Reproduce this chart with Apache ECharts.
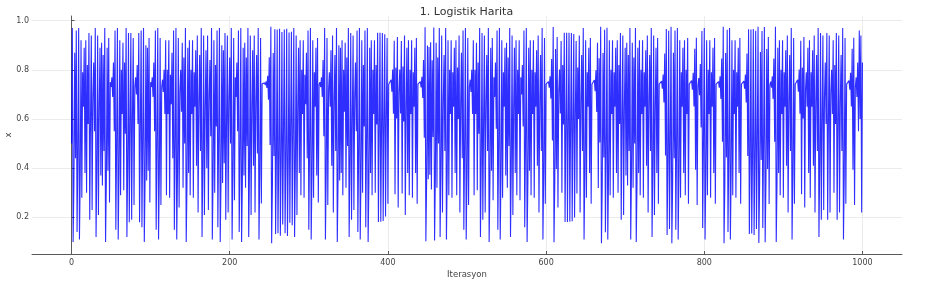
<!DOCTYPE html>
<html>
<head>
<meta charset="utf-8">
<script src="https://cdn.jsdelivr.net/npm/echarts@6/dist/echarts.min.js"></script>
<style>html,body{margin:0;padding:0;background:#fff}#c{width:933px;height:282px}</style>
</head>
<body>
<div id="c"></div>
<script>
// x_n values of the logistic map, read/ (iteration 0..1000)
const xValues = [
0.50,0.97,0.10,0.34,0.87,0.44,0.96,0.14,0.47,0.97,0.11,0.38,0.92,0.28,0.79,0.65,0.89,0.38,0.92,0.30,
0.82,0.58,0.95,0.19,0.60,0.94,0.23,0.69,0.83,0.55,0.97,0.12,0.41,0.94,0.21,0.65,0.89,0.37,0.91,0.33,
0.86,0.47,0.97,0.10,0.35,0.89,0.39,0.93,0.26,0.75,0.73,0.77,0.69,0.83,0.55,0.96,0.15,0.50,0.97,0.11,
0.38,0.92,0.29,0.80,0.62,0.91,0.31,0.83,0.54,0.97,0.12,0.42,0.95,0.18,0.58,0.95,0.19,0.61,0.93,0.25,
0.73,0.77,0.70,0.82,0.58,0.95,0.18,0.57,0.96,0.16,0.52,0.97,0.10,0.36,0.90,0.35,0.89,0.39,0.93,0.26,
0.75,0.73,0.77,0.69,0.83,0.55,0.96,0.15,0.50,0.97,0.11,0.38,0.93,0.25,0.73,0.76,0.71,0.80,0.62,0.92,
0.29,0.80,0.62,0.92,0.28,0.78,0.66,0.87,0.44,0.96,0.15,0.49,0.97,0.11,0.39,0.93,0.24,0.71,0.80,0.63,
0.91,0.32,0.85,0.50,0.97,0.10,0.35,0.89,0.38,0.92,0.29,0.80,0.62,0.92,0.28,0.79,0.65,0.88,0.41,0.94,
0.22,0.67,0.86,0.47,0.97,0.12,0.41,0.94,0.21,0.65,0.88,0.40,0.94,0.23,0.69,0.84,0.53,0.97,0.11,0.38,
0.92,0.30,0.82,0.57,0.96,0.16,0.53,0.97,0.10,0.36,0.90,0.34,0.88,0.42,0.95,0.19,0.60,0.94,0.22,0.68,
0.85,0.50,0.97,0.11,0.39,0.93,0.27,0.77,0.69,0.83,0.55,0.96,0.14,0.47,0.97,0.10,0.35,0.89,0.37,0.91,
0.32,0.85,0.49,0.97,0.12,0.41,0.94,0.21,0.65,0.88,0.41,0.94,0.22,0.67,0.86,0.46,0.97,0.11,0.38,0.93,
0.256,0.743,0.745,0.742,0.747,0.738,0.753,0.726,0.776,0.678,0.851,0.494,0.975,0.095,0.335,0.869,0.450,0.965,0.132,0.447,
0.964,0.135,0.455,0.967,0.125,0.427,0.954,0.171,0.553,0.964,0.135,0.455,0.967,0.124,0.424,0.952,0.178,0.571,0.955,0.168,
0.55,0.97,0.12,0.41,0.94,0.21,0.65,0.89,0.38,0.92,0.29,0.80,0.62,0.92,0.28,0.78,0.66,0.87,0.44,0.96,
0.15,0.50,0.97,0.11,0.38,0.92,0.28,0.79,0.65,0.89,0.37,0.93,0.26,0.74,0.75,0.73,0.77,0.69,0.84,0.53,
0.97,0.11,0.39,0.93,0.25,0.72,0.79,0.65,0.88,0.41,0.94,0.22,0.67,0.86,0.47,0.97,0.10,0.36,0.90,0.35,
0.89,0.38,0.92,0.29,0.80,0.63,0.91,0.32,0.85,0.49,0.97,0.12,0.42,0.95,0.19,0.60,0.94,0.23,0.69,0.83,
0.55,0.96,0.14,0.47,0.97,0.11,0.38,0.92,0.30,0.82,0.57,0.96,0.16,0.52,0.97,0.10,0.35,0.89,0.38,0.92,
0.29,0.80,0.62,0.92,0.30,0.82,0.578,0.951,0.181,0.578,0.951,0.182,0.581,0.950,0.185,0.588,0.945,0.204,0.61,0.93,
0.255,0.741,0.748,0.735,0.760,0.711,0.801,0.621,0.918,0.294,0.809,0.602,0.934,0.240,0.711,0.801,0.622,0.917,0.297,0.814,
0.59,0.94,0.21,0.65,0.89,0.38,0.92,0.29,0.80,0.62,0.92,0.28,0.79,0.65,0.89,0.38,0.93,0.255,0.742,0.746,
0.739,0.752,0.728,0.772,0.686,0.840,0.524,0.973,0.103,0.360,0.899,0.355,0.893,0.373,0.912,0.313,0.839,0.527,0.972,0.106,
0.37,0.91,0.32,0.85,0.50,0.97,0.12,0.41,0.94,0.22,0.67,0.86,0.47,0.97,0.11,0.38,0.92,0.29,0.80,0.62,
0.92,0.28,0.79,0.65,0.89,0.38,0.92,0.29,0.81,0.60,0.94,0.22,0.66,0.87,0.44,0.96,0.15,0.49,0.97,0.11,
0.38,0.93,0.25,0.73,0.76,0.71,0.80,0.62,0.92,0.29,0.80,0.62,0.91,0.31,0.83,0.54,0.97,0.12,0.42,0.95,
0.19,0.60,0.94,0.22,0.67,0.86,0.47,0.97,0.10,0.35,0.89,0.39,0.93,0.27,0.77,0.69,0.83,0.56,0.96,0.15,
0.50,0.97,0.11,0.38,0.92,0.28,0.79,0.65,0.89,0.37,0.91,0.32,0.85,0.49,0.97,0.12,0.41,0.94,0.21,0.65,
0.89,0.38,0.92,0.29,0.80,0.62,0.92,0.27,0.77,0.70,0.82,0.57,0.96,0.16,0.52,0.97,0.10,0.35,0.89,0.39,
0.92,0.29,0.80,0.62,0.92,0.28,0.79,0.65,0.88,0.41,0.94,0.22,0.67,0.86,0.47,0.97,0.11,0.38,0.93,0.255,
0.742,0.746,0.739,0.752,0.727,0.774,0.683,0.844,0.513,0.974,0.099,0.348,0.885,0.397,0.934,0.240,0.711,0.801,0.622,0.917,
0.30,0.82,0.578,0.951,0.181,0.578,0.951,0.181,0.578,0.951,0.182,0.580,0.950,0.184,0.586,0.946,0.199,0.622,0.917,0.297,
0.81,0.60,0.94,0.22,0.67,0.86,0.47,0.97,0.11,0.38,0.92,0.28,0.79,0.65,0.89,0.38,0.93,0.255,0.741,0.748,
0.735,0.759,0.713,0.798,0.629,0.910,0.319,0.847,0.505,0.975,0.095,0.335,0.869,0.444,0.963,0.139,0.467,0.971,0.110,0.382,
0.92,0.29,0.80,0.62,0.92,0.28,0.79,0.65,0.89,0.38,0.92,0.30,0.82,0.58,0.95,0.19,0.60,0.94,0.21,0.65,
0.89,0.37,0.91,0.33,0.86,0.47,0.97,0.11,0.39,0.91,0.32,0.85,0.50,0.97,0.10,0.35,0.89,0.38,0.92,0.29,
0.80,0.62,0.92,0.28,0.79,0.65,0.88,0.41,0.94,0.22,0.67,0.86,0.47,0.97,0.12,0.41,0.94,0.21,0.65,0.89,
0.38,0.93,0.255,0.742,0.746,0.738,0.754,0.723,0.781,0.667,0.866,0.452,0.966,0.128,0.435,0.959,0.153,0.505,0.975,0.095,
0.34,0.87,0.44,0.96,0.15,0.50,0.97,0.11,0.38,0.92,0.28,0.79,0.65,0.89,0.38,0.92,0.29,0.80,0.62,0.93,
0.255,0.742,0.747,0.737,0.756,0.719,0.788,0.651,0.886,0.394,0.931,0.250,0.731,0.767,0.697,0.824,0.566,0.958,0.157,0.516,
0.97,0.11,0.38,0.92,0.29,0.80,0.62,0.92,0.28,0.79,0.65,0.89,0.38,0.93,0.255,0.742,0.746,0.739,0.752,0.727,
0.774,0.682,0.846,0.508,0.975,0.095,0.335,0.869,0.444,0.963,0.14,0.47,0.97,0.11,0.38,0.92,0.29,0.80,0.62,0.92,
0.28,0.79,0.65,0.89,0.38,0.93,0.255,0.742,0.746,0.738,0.754,0.723,0.781,0.667,0.866,0.450,0.965,0.132,0.447,0.964,
0.134,0.452,0.966,0.128,0.436,0.959,0.153,0.505,0.975,0.096,0.338,0.873,0.433,0.958,0.157,0.516,0.974,0.099,0.348,0.885,
0.397,0.934,0.254,0.739,0.752,0.727,0.774,0.682,0.846,0.508,0.975,0.10,0.35,0.89,0.38,0.92,0.29,0.80,0.62,0.92,
0.28,0.79,0.65,0.88,0.41,0.94,0.22,0.67,0.86,0.47,0.97,0.11,0.38,0.93,0.255,0.741,0.748,0.735,0.760,0.711,
0.801,0.621,0.918,0.294,0.809,0.602,0.934,0.24,0.72,0.79,0.65,0.89,0.38,0.92,0.28,0.79,0.65,0.88,0.41,0.94,
0.22,0.67,0.86,0.47,0.97,0.12,0.42,0.95,0.19,0.60,0.94,0.23,0.69,0.83,0.58,0.95,0.19,0.60,0.94,0.22,
0.71,0.80,0.62,0.92,0.30,0.82,0.58,0.95,0.19,0.60,0.94,0.22,0.67,0.86,0.47,0.97,0.11,0.38,0.93,0.255,
0.742,0.747,0.737,0.756,0.719,0.788,0.651,0.886,0.394,0.931,0.25,0.73,0.77,0.69,0.83,0.55,0.96,0.60,0.94,0.22,
0.83
];
const xTicks = [0, 200, 400, 600, 800, 1000];
const yTicks = [0.2, 0.4, 0.6, 0.8, 1.0];
const titleText = '1. Logistik Harita';
const xName = 'Iterasyon';
const yName = 'x';

const chart = echarts.init(document.getElementById('c'), null, {renderer: 'canvas'});
const seriesData = xValues.map((v, i) => [i, v]);
const gridColor = '#ebebeb';
const axisColor = '#5a5a5a';
const textColor = '#444';
const fontFamily = 'DejaVu Sans';

chart.setOption({
  animation: false,
  backgroundColor: '#fff',
  title: {
    text: titleText, left: 'center', top: 2,
    textStyle: {fontSize: 11, fontWeight: 'normal', color: '#333', fontFamily}
  },
  grid: {left: 32, right: 31, top: 16, bottom: 28, containLabel: false, outerBoundsMode: 'none'},
  xAxis: {
    type: 'value', min: -50, max: 1050,
    name: xName, nameLocation: 'middle', nameGap: 16, nameMoveOverlap: false,
    nameTextStyle: {fontSize: 8.5, color: textColor, fontFamily},
    axisLine: {show: true, onZero: false, lineStyle: {color: axisColor, width: 1}},
    axisTick: {show: true, inside: true, length: 3, customValues: xTicks, lineStyle: {color: axisColor}},
    axisLabel: {customValues: xTicks, fontSize: 8, color: textColor, fontFamily, margin: 5,
      formatter: v => String(v)},
    splitLine: {show: false}
  },
  yAxis: {
    type: 'value', min: 0.051, max: 1.019,
    name: yName, nameLocation: 'middle', nameGap: 19, nameRotate: 90, nameMoveOverlap: false,
    nameTextStyle: {fontSize: 8.5, color: textColor, fontFamily},
    axisLine: {show: true, lineStyle: {color: axisColor, width: 1}},
    axisTick: {show: true, inside: true, length: 3, customValues: yTicks, lineStyle: {color: axisColor}},
    axisLabel: {customValues: yTicks, fontSize: 8, color: textColor, fontFamily, margin: 3,
      formatter: v => Number(v).toFixed(1)},
    splitLine: {show: false}
  },
  series: [
    {
      type: 'line', data: [], silent: true, z: 1,
      markLine: {
        silent: true, z: 0, symbol: ['none', 'none'], label: {show: false},
        lineStyle: {color: gridColor, width: 1, type: 'solid'},
        animation: false,
        data: xTicks.map(t => ({xAxis: t})).concat(yTicks.map(t => ({yAxis: t})))
      }
    },
    {
      type: 'line', data: seriesData, showSymbol: false, symbol: 'none', z: 3,
      sampling: null, clip: true,
      lineStyle: {color: '#0000ff', width: 1.1, opacity: 0.82},
      emphasis: {disabled: true}
    }
  ]
});
</script>
</body>
</html>
